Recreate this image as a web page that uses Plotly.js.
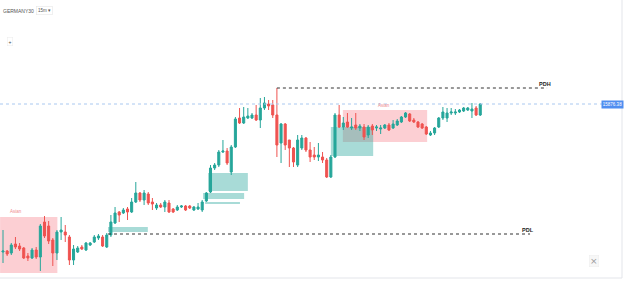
<!DOCTYPE html>
<html>
<head>
<meta charset="utf-8">
<script src="https://cdn.plot.ly/plotly-3.0.1.min.js"></script>
<style>html,body{margin:0;padding:0;background:#fff;}#chart{width:624px;height:281px;}</style>
</head>
<body>
<div id="chart"></div>
<script>
// ---- data (15m candles, GERMANY30) ----
const openP = [15728,15729,15727,15736,15734,15732,15724,15722,15730,15723,
15758,15754,15740,15727,15748,15748,15743,15720,15728,15733,
15730,15735,15738,15742,15743,15733,15745,15757,15768,15767,
15771,15768,15778,15787,15780,15786,15778,15772,15775,15773,
15777,15771,15770,15773,15774,15774,15770,15771,15770,15779,
15788,15812,15815,15828,15829,15808,15833,15862,15857,15862,
15862,15865,15860,15872,15876,15875,15865,15837,15856,15840,
15832,15815,15832,15842,15830,15825,15823,15823,15820,15803,
15823,15865,15853,15858,15852,15855,15852,15853,15845,15854,
15852,15851,15852,15855,15852,15855,15858,15863,15866,15860,
15858,15856,15853,15845,15847,15853,15862,15862,15867,15867,
15868,15869,15870,15869,15872,15865];
const highP = [15750,15730,15737,15743,15737,15733,15727,15732,15733,15756,
15764,15759,15742,15750,15763,15755,15745,15735,15734,15735,
15738,15738,15745,15746,15745,15747,15765,15773,15769,15772,
15773,15782,15798,15788,15790,15788,15782,15777,15777,15780,
15780,15772,15775,15775,15775,15775,15774,15777,15780,15788,
15815,15817,15830,15840,15832,15835,15863,15872,15873,15872,
15867,15875,15882,15883,15880,15880,15892,15857,15857,15840,
15833,15845,15845,15843,15838,15833,15837,15828,15822,15825,
15867,15875,15863,15867,15862,15867,15856,15856,15855,15856,
15855,15855,15856,15857,15860,15861,15864,15868,15867,15862,
15859,15857,15854,15849,15853,15863,15873,15872,15872,15871,
15871,15873,15873,15877,15874,15877];
const lowP = [15717,15724,15725,15731,15729,15721,15719,15721,15721,15709,
15742,15736,15714,15720,15740,15738,15715,15715,15727,15730,
15729,15734,15737,15740,15733,15732,15743,15756,15758,15766,
15760,15767,15777,15778,15775,15775,15770,15770,15772,15768,
15767,15767,15769,15772,15769,15771,15769,15770,15768,15778,
15787,15810,15813,15827,15815,15805,15832,15856,15856,15861,
15861,15859,15852,15870,15870,15862,15823,15817,15830,15813,
15813,15813,15830,15828,15818,15820,15819,15817,15802,15802,
15822,15852,15850,15852,15850,15850,15849,15840,15842,15845,
15849,15846,15851,15849,15851,15854,15857,15862,15858,15857,
15852,15851,15845,15844,15845,15852,15860,15858,15865,15865,
15867,15868,15869,15862,15864,15864];
const closeP = [15729,15726,15735,15733,15731,15722,15722,15730,15723,15754,
15744,15739,15727,15748,15750,15745,15720,15731,15732,15731,
15737,15737,15743,15744,15734,15745,15758,15767,15765,15770,
15768,15778,15787,15780,15787,15777,15776,15775,15773,15778,
15768,15768,15773,15774,15770,15772,15773,15773,15778,15787,
15812,15815,15828,15829,15817,15833,15861,15857,15863,15864,
15865,15860,15872,15877,15874,15865,15835,15856,15835,15832,
15818,15840,15842,15830,15823,15823,15825,15820,15803,15823,
15865,15853,15857,15853,15853,15852,15854,15843,15853,15850,
15853,15852,15855,15850,15856,15859,15863,15867,15859,15858,
15853,15852,15846,15847,15852,15862,15868,15867,15868,15868,
15870,15872,15872,15871,15865,15876];

// zones: [start bar, end bar, low, high]
const zoneKind = ['asian','asian','fvg','fvg','fvg','fvg','fvg'];
const zoneX0 = [-0.7, 81.9, 79.0, 49.4, 48.2, 48.7, 25.3];
const zoneX1 = [13.1, 102.2, 89.2, 59.0, 58.1, 57.1, 34.9];
const zoneLo = [15707, 15838, 15824, 15789, 15781, 15776, 15748];
const zoneHi = [15763, 15870, 15853, 15807, 15787, 15778, 15753];

const levelNames = ['PDH','PDL'];
const levelPrice = [15892, 15746];
const levelFrom = [66.0, 25.3];
const levelTo = [131.1, 127.0];

const symbol = 'GERMANY30';
const timeframe = '15m';
const lastPriceLabel = '15876.38';

// ---- build ----
const xs = openP.map((_, i) => i);
const trace = {
  type: 'candlestick', x: xs, open: openP, high: highP, low: lowP, close: closeP,
  increasing: {line: {color: '#26a69a', width: 1}, fillcolor: '#26a69a'},
  decreasing: {line: {color: '#ef5350', width: 1}, fillcolor: '#ef5350'},
  whiskerwidth: 0, hoverinfo: 'skip', showlegend: false
};

const shapes = [];
const annotations = [];
zoneKind.forEach((k, i) => {
  shapes.push({type: 'rect', xref: 'x', yref: 'y', layer: 'below',
    x0: zoneX0[i], x1: zoneX1[i], y0: zoneLo[i], y1: zoneHi[i],
    line: {width: 0},
    fillcolor: k === 'asian' ? 'rgba(242,54,69,0.24)' : 'rgba(38,166,154,0.40)'});
  if (k === 'asian') {
    annotations.push({xref: 'x', yref: 'y', x: i === 0 ? 3.1 : 91.9, y: zoneHi[i] + (i === 0 ? 6 : 5),
      text: 'Asian', showarrow: false, font: {family: 'Arial', size: 4.5, color: '#f08a90'}});
  }
});
levelNames.forEach((n, i) => {
  shapes.push({type: 'line', xref: 'x', yref: 'y', x0: levelFrom[i], x1: levelTo[i],
    y0: levelPrice[i], y1: levelPrice[i], line: {color: '#333', width: 1, dash: 'dot'}});
  annotations.push({xref: 'x', yref: 'y', x: levelTo[i] - (i === 0 ? 0.4 : 0.6), y: levelPrice[i] + 4.5,
    text: '<b>' + n + '</b>', showarrow: false, font: {family: 'Arial', size: 5.5, color: '#222'}});
});
const lastClose = closeP[closeP.length - 1];
shapes.push({type: 'line', xref: 'paper', yref: 'y', x0: 0, x1: 603/624, y0: lastClose, y1: lastClose,
  line: {color: '#a9c8f0', width: 1, dash: 'dot'}});
// frame
shapes.push({type: 'line', xref: 'paper', yref: 'paper', x0: 622/624, x1: 622/624, y0: 1, y1: 1 - 278/281, line: {color: '#e3e5ea', width: 1}});
shapes.push({type: 'line', xref: 'paper', yref: 'paper', x0: 0, x1: 622/624, y0: 1 - 278/281, y1: 1 - 278/281, line: {color: '#e3e5ea', width: 1}});

annotations.push({xref: 'paper', yref: 'y', x: 1, xanchor: 'right', y: lastClose, text: lastPriceLabel,
  showarrow: false, bgcolor: '#4f8ef0', font: {family: 'Arial', size: 4.5, color: '#fff'},
  borderpad: 1, width: 19, height: 5});
annotations.push({xref: 'paper', yref: 'paper', x: 1/624, xanchor: 'left', y: 1 - 6/281, text: symbol,
  showarrow: false, font: {family: 'Arial', size: 5, color: '#555'}});
annotations.push({xref: 'paper', yref: 'paper', x: 36/624, xanchor: 'left', y: 1 - 6.3/281, text: timeframe + ' ▾',
  showarrow: false, font: {family: 'Arial', size: 4.5, color: '#555'}, bordercolor: '#e6e6e6', borderwidth: 0.6, borderpad: 1.5});
annotations.push({xref: 'paper', yref: 'paper', x: 6.5/624, y: 1 - 37.5/281, text: '+',
  showarrow: false, font: {family: 'Arial', size: 5, color: '#444'}, bordercolor: '#eee', borderwidth: 0.6, borderpad: 1});
annotations.push({xref: 'paper', yref: 'paper', x: 599/624, y: 1 - 267/281, text: '×',
  showarrow: false, font: {family: 'DejaVu Sans', size: 9, color: '#9a9a9a'}, bgcolor: '#f7f7f7', bordercolor: '#eeeeee', borderwidth: 0.6, borderpad: 0.5});

const layout = {
  width: 624, height: 281, margin: {l: 0, r: 0, t: 0, b: 0},
  paper_bgcolor: '#fff', plot_bgcolor: '#fff', showlegend: false,
  xaxis: {visible: false, range: [-3/4.15, (624-3)/4.15], rangeslider: {visible: false}, fixedrange: true},
  yaxis: {visible: false, range: [15980 - 281, 15980], fixedrange: true},
  shapes: shapes, annotations: annotations
};
Plotly.newPlot('chart', [trace], layout, {displayModeBar: false, staticPlot: true});
</script>
</body>
</html>
